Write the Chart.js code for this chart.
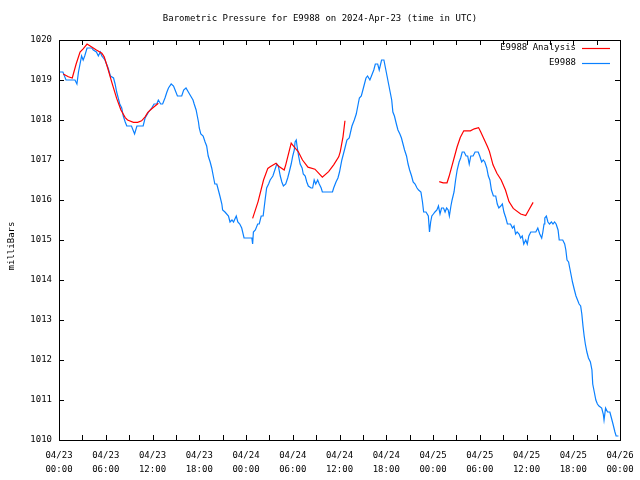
<!DOCTYPE html>
<html>
<head>
<meta charset="utf-8">
<script src="https://cdn.jsdelivr.net/npm/chart.js@4.4.1/dist/chart.umd.min.js"></script>
<style>
  html, body { margin: 0; padding: 0; background: #fff; }
  #wrap { width: 640px; height: 480px; position: relative; }
</style>
</head>
<body>
<div id="wrap"><canvas id="pressureChart"></canvas></div>
<script>
"use strict";

// hours since 2024-04-23 00:00 UTC
const tickLabels = ['04/23', '04/23', '04/23', '04/23', '04/24', '04/24', '04/24', '04/24',
                    '04/25', '04/25', '04/25', '04/25', '04/26'];
const tickTimes = ['00:00', '06:00', '12:00', '18:00'];

// E9988 observations
const blueHours = [
  0.0, 0.5, 0.9, 2.05, 2.3, 2.5, 2.9, 3.1, 3.3, 3.6, 4.2, 4.4, 4.8, 5.05, 5.3, 5.5, 5.7, 5.9,
  6.1, 6.3, 6.6, 7.0, 7.2, 7.4, 7.6, 7.8, 8.05, 8.25, 8.5, 8.7, 9.3, 9.7, 10.0, 10.8, 11.05, 11.5, 11.9,
  12.2, 12.55, 12.75, 13.05, 13.3, 13.6, 13.85, 14.05, 14.4, 14.7, 14.9, 15.2, 15.75, 16.0, 16.3, 16.6, 16.9,
  17.2, 17.35, 17.6, 17.75, 17.9, 18.0, 18.2, 18.5, 18.75, 18.95, 19.15, 19.4, 19.6, 19.8, 20.0, 20.25,
  20.45, 20.65, 20.9, 21.0, 21.3, 21.75, 21.95, 22.2, 22.4, 22.75, 22.95, 23.2, 23.45, 23.75,
  24.75, 24.85, 24.95, 25.2, 25.5, 25.7, 25.95, 26.2, 26.45, 26.65, 26.9, 27.1, 27.45, 27.7, 27.95,
  28.15, 28.4, 28.6, 28.8, 29.1, 29.35, 29.55, 29.8, 30.0, 30.2, 30.3, 30.45, 30.55, 30.75, 30.95,
  31.2, 31.35, 31.6, 31.8, 32.0, 32.35, 32.55, 32.75, 32.95, 33.2, 33.4, 33.65, 33.8, 35.1, 35.25,
  35.55, 35.8, 36.0, 36.3, 36.5, 36.7, 36.95, 37.25, 37.6, 37.9, 38.15, 38.35, 38.55, 38.8, 39.0,
  39.2, 39.4, 39.6, 39.9, 40.1, 40.4, 40.6, 40.9, 41.1, 41.4, 41.7, 41.9, 42.1, 42.3, 42.5, 42.7,
  42.85, 43.05, 43.3, 43.5, 43.75, 43.95, 44.15, 44.35, 44.6, 44.8, 45.0, 45.25, 45.45, 45.7, 45.95,
  46.15, 46.45, 46.65, 46.8, 47.1, 47.4, 47.55, 47.7, 47.85, 48.05, 48.25, 48.5, 48.7, 48.9, 49.1,
  49.35, 49.55, 49.75, 49.95, 50.1, 50.3, 50.45, 50.7, 50.9, 51.1, 51.35, 51.55, 51.75, 52.0, 52.25,
  52.45, 52.65, 52.85, 53.15, 53.4, 53.6, 53.8, 54.0, 54.25, 54.45, 54.65, 54.9, 55.1, 55.3, 55.5,
  55.75, 56.05, 56.25, 56.45, 56.7, 56.9, 57.1, 57.35, 57.55, 57.75, 57.95, 58.2, 58.4, 58.6, 58.8,
  59.05, 59.25, 59.45, 59.65, 59.9, 60.1, 60.3, 60.55, 61.2, 61.45, 61.7, 61.95, 62.1, 62.25, 62.35,
  62.55, 62.75, 62.95, 63.2, 63.4, 63.6, 63.8, 64.05, 64.2, 64.65, 64.9, 65.05, 65.2, 65.4, 65.55,
  65.75, 65.9, 66.15, 66.35, 66.55, 66.75, 66.95, 67.1, 67.25, 67.4, 67.55, 67.75, 67.95, 68.2, 68.4,
  68.5, 68.7, 68.9, 69.1, 69.3, 69.65, 69.85, 69.95, 70.15, 70.4, 70.7, 70.9, 71.1, 71.35, 71.5, 71.8
];
const bluePressure = [
  1019.2, 1019.2, 1019.0, 1019.0, 1018.9, 1019.2, 1019.6, 1019.5, 1019.6, 1019.8, 1019.8, 1019.75, 1019.7, 1019.6, 1019.7, 1019.6, 1019.55, 1019.5,
  1019.4, 1019.3, 1019.1, 1019.05, 1018.9, 1018.7, 1018.55, 1018.4, 1018.3, 1018.1, 1017.95, 1017.85, 1017.85, 1017.65, 1017.85, 1017.85, 1018.05, 1018.2, 1018.3,
  1018.4, 1018.4, 1018.5, 1018.4, 1018.4, 1018.55, 1018.7, 1018.8, 1018.9, 1018.85, 1018.75, 1018.6, 1018.6, 1018.75, 1018.8, 1018.7, 1018.6,
  1018.5, 1018.4, 1018.25, 1018.1, 1017.95, 1017.8, 1017.65, 1017.6, 1017.45, 1017.35, 1017.1, 1016.95, 1016.8, 1016.6, 1016.4, 1016.4,
  1016.25, 1016.1, 1015.9, 1015.75, 1015.7, 1015.6, 1015.45, 1015.5, 1015.45, 1015.6, 1015.45, 1015.4, 1015.3, 1015.05,
  1015.05, 1014.9, 1015.2, 1015.25, 1015.4, 1015.4, 1015.6, 1015.6, 1016.0, 1016.3, 1016.4, 1016.5, 1016.6, 1016.75, 1016.9,
  1016.85, 1016.6, 1016.45, 1016.35, 1016.4, 1016.55, 1016.7, 1016.9, 1017.1, 1017.25, 1017.45, 1017.5, 1017.35, 1017.1, 1016.9,
  1016.8, 1016.65, 1016.6, 1016.45, 1016.35, 1016.3, 1016.3, 1016.5, 1016.4, 1016.5, 1016.4, 1016.3, 1016.2, 1016.2, 1016.3,
  1016.45, 1016.55, 1016.7, 1017.0, 1017.15, 1017.3, 1017.5, 1017.55, 1017.85, 1018.0, 1018.15, 1018.35, 1018.55, 1018.6, 1018.75,
  1018.9, 1019.05, 1019.1, 1019.0, 1019.1, 1019.25, 1019.4, 1019.4, 1019.25, 1019.5, 1019.5, 1019.3, 1019.1, 1018.9, 1018.7, 1018.5,
  1018.2, 1018.1, 1017.9, 1017.75, 1017.65, 1017.55, 1017.4, 1017.25, 1017.1, 1016.9, 1016.75, 1016.6, 1016.45, 1016.4, 1016.3,
  1016.25, 1016.2, 1015.95, 1015.7, 1015.7, 1015.6, 1015.2, 1015.45, 1015.6, 1015.65, 1015.7, 1015.75, 1015.85, 1015.65, 1015.8,
  1015.8, 1015.7, 1015.8, 1015.75, 1015.6, 1015.85, 1016.0, 1016.2, 1016.5, 1016.75, 1016.95, 1017.05, 1017.2, 1017.2, 1017.1,
  1017.1, 1016.9, 1017.1, 1017.1, 1017.2, 1017.2, 1017.2, 1017.1, 1016.95, 1017.0, 1016.95, 1016.8, 1016.6, 1016.5, 1016.25,
  1016.1, 1016.1, 1015.9, 1015.8, 1015.85, 1015.9, 1015.7, 1015.55, 1015.4, 1015.4, 1015.4, 1015.3, 1015.35, 1015.15, 1015.2,
  1015.15, 1015.05, 1015.1, 1014.9, 1015.0, 1014.9, 1015.1, 1015.2, 1015.2, 1015.3, 1015.15, 1015.05, 1015.2, 1015.4, 1015.55,
  1015.6, 1015.45, 1015.4, 1015.45, 1015.4, 1015.45, 1015.4, 1015.25, 1015.0, 1015.0, 1014.9, 1014.75, 1014.5, 1014.45, 1014.3,
  1014.1, 1013.95, 1013.75, 1013.6, 1013.5, 1013.4, 1013.35, 1013.15, 1012.85, 1012.6, 1012.4, 1012.2, 1012.05, 1011.95, 1011.75,
  1011.4, 1011.2, 1011.0, 1010.9, 1010.85, 1010.8, 1010.65, 1010.5, 1010.8, 1010.7, 1010.7, 1010.55, 1010.4, 1010.2, 1010.1, 1010.1
];

// E9988 Analysis (null = no analysis, line break)
const redHours = [
  0.55, 1.2, 1.7, 2.2, 2.7, 3.1, 3.6, 4.0, 4.8, 5.5, 5.8, 6.25, 6.75, 7.4, 7.95, 8.5, 8.8, 9.55, 10.1,
  10.6, 11.05, 11.4, 11.9, 12.75,
  18.0,
  24.85, 25.55, 26.25, 26.8, 27.1, 27.85, 28.15, 28.9, 29.1, 29.8, 30.2, 30.7, 31.25, 31.95, 32.85,
  33.8, 34.6, 35.25, 35.9, 36.1, 36.3, 36.45, 36.7,
  42.0,
  48.8, 49.3, 49.8, 50.05, 51.1, 51.5, 51.95, 52.8, 53.3, 53.85, 54.1, 55.0, 55.25, 55.7, 56.2, 56.75,
  57.3, 57.75, 58.3, 59.25, 59.9, 60.3, 60.85
];
const redPressure = [
  1019.15, 1019.08, 1019.05, 1019.4, 1019.7, 1019.78, 1019.9, 1019.85, 1019.75, 1019.67, 1019.58, 1019.3, 1018.96, 1018.54, 1018.25, 1018.06, 1018.0, 1017.94, 1017.94,
  1017.98, 1018.08, 1018.19, 1018.28, 1018.42,
  null,
  1015.54, 1015.96, 1016.5, 1016.79, 1016.83, 1016.92, 1016.85, 1016.75, 1016.88, 1017.42, 1017.32, 1017.21, 1017.0, 1016.82, 1016.77,
  1016.57, 1016.71, 1016.88, 1017.08, 1017.21, 1017.42, 1017.58, 1017.98,
  null,
  1016.46, 1016.43, 1016.43, 1016.58, 1017.33, 1017.56, 1017.73, 1017.73, 1017.78, 1017.81, 1017.71, 1017.33, 1017.21, 1016.88, 1016.67, 1016.5,
  1016.25, 1015.96, 1015.79, 1015.65, 1015.61, 1015.75, 1015.94
];

const FONT = '"DejaVu Sans Mono", "Liberation Mono", monospace';

function toPoints(xs, ys) {
  return xs.map((h, i) => ({ x: h, y: ys[i] }));
}

// gnuplot style frame, inward ticks, title, y label and legend
const gnuplotDecor = {
  id: 'gnuplotDecor',
  afterDraw(chart) {
    const { ctx, chartArea: a, scales: { x, y } } = chart;
    ctx.save();
    ctx.strokeStyle = '#000';
    ctx.lineWidth = 1;
    ctx.strokeRect(a.left + 0.5, a.top + 0.5, a.right - a.left, a.bottom - a.top);

    ctx.beginPath();
    for (let h = 0; h <= 72; h += 3) {
      const px = Math.round(x.getPixelForValue(h)) + 0.5;
      ctx.moveTo(px, a.bottom); ctx.lineTo(px, a.bottom - 5);
      ctx.moveTo(px, a.top); ctx.lineTo(px, a.top + 5);
    }
    for (let p = 1010; p <= 1020; p++) {
      const py = Math.round(y.getPixelForValue(p)) + 0.5;
      ctx.moveTo(a.left, py); ctx.lineTo(a.left + 5, py);
      ctx.moveTo(a.right, py); ctx.lineTo(a.right - 5, py);
    }
    ctx.stroke();

    ctx.fillStyle = '#000';
    ctx.font = '9px ' + FONT;
    ctx.textAlign = 'center';
    ctx.textBaseline = 'middle';
    ctx.fillText('Barometric Pressure for E9988 on 2024-Apr-23 (time in UTC)', 320, 19);

    ctx.save();
    ctx.translate(12, 246);
    ctx.rotate(-Math.PI / 2);
    ctx.fillText('milliBars', 0, 0);
    ctx.restore();

    // legend, text right aligned before the sample line
    ctx.textAlign = 'right';
    chart.data.datasets.forEach((ds, i) => {
      const ly = 48 + i * 15;
      ctx.fillStyle = '#000';
      ctx.fillText(ds.label, 576, ly);
      ctx.strokeStyle = ds.borderColor;
      ctx.lineWidth = 1.2;
      ctx.beginPath();
      ctx.moveTo(582, ly + 0.5);
      ctx.lineTo(610, ly + 0.5);
      ctx.stroke();
    });
    ctx.restore();
  }
};

new Chart(document.getElementById('pressureChart'), {
  type: 'line',
  data: {
    datasets: [
      {
        label: 'E9988 Analysis',
        data: toPoints(redHours, redPressure),
        borderColor: '#ff0000',
        borderWidth: 1.2,
        pointRadius: 0,
        spanGaps: false,
        tension: 0
      },
      {
        label: 'E9988',
        data: toPoints(blueHours, bluePressure),
        borderColor: '#0a80ff',
        borderWidth: 1.2,
        pointRadius: 0,
        tension: 0
      }
    ]
  },
  options: {
    responsive: true,
    maintainAspectRatio: false,
    animation: false,
    layout: { padding: { top: 40, right: 20, left: 0, bottom: 0 } },
    plugins: {
      legend: { display: false },
      title: { display: false },
      tooltip: { enabled: false }
    },
    scales: {
      x: {
        type: 'linear',
        min: 0,
        max: 72,
        grid: { display: false, drawTicks: false },
        border: { display: false },
        afterFit: (scale) => {
          scale.height = 40;
          scale.paddingLeft = 0;
          scale.paddingRight = 0;
        },
        ticks: {
          stepSize: 6,
          autoSkip: false,
          maxRotation: 0,
          padding: 8,
          color: '#000',
          font: { family: FONT, size: 9, lineHeight: 1.6 },
          callback: (v) => {
            if (v % 6 !== 0) return '';
            return [tickLabels[v / 6], tickTimes[(v / 6) % 4]];
          }
        }
      },
      y: {
        min: 1010,
        max: 1020,
        grid: { display: false, drawTicks: false },
        border: { display: false },
        afterFit: (scale) => {
          scale.width = 59;
          scale.paddingTop = 0;
          scale.paddingBottom = 0;
        },
        ticks: {
          stepSize: 1,
          padding: 7,
          color: '#000',
          font: { family: FONT, size: 9 },
          callback: (v) => String(v)
        }
      }
    }
  },
  plugins: [gnuplotDecor]
});
</script>
</body>
</html>
